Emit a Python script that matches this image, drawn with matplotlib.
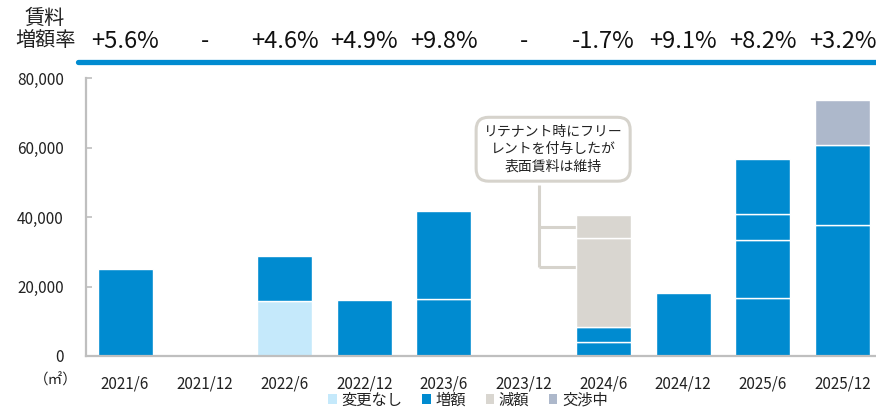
import matplotlib
matplotlib.use("Agg")
import matplotlib.pyplot as plt
from matplotlib.lines import Line2D
from matplotlib.patches import Patch
from matplotlib import transforms
from matplotlib.ticker import FuncFormatter

plt.rcParams["font.family"] = ["Noto Sans CJK JP", "DejaVu Sans"]

periods = ["2021/6", "2021/12", "2022/6", "2022/12", "2023/6",
           "2023/12", "2024/6", "2024/12", "2025/6", "2025/12"]
rent_rates = ["+5.6%", "-", "+4.6%", "+4.9%", "+9.8%",
              "-", "-1.7%", "+9.1%", "+8.2%", "+3.2%"]

# area (m2) per contract segment, stacked bottom -> top
unchanged = [[], [], [15700], [], [], [], [], [], [], []]
increase = [[25100], [], [13100], [16100], [16400, 25300], [],
            [4100, 4300], [18100], [16800, 16500, 7500, 16000], [37800, 22800]]
decrease = [[], [], [], [], [], [], [25500, 6600], [], [], []]
negotiating = [[], [], [], [], [], [], [], [], [], [13200]]

kinds = ["変更なし", "増額", "減額", "交渉中"]
colors = ["#C5E9FB", "#008BD0", "#D9D6D0", "#ADB8CB"]
note_text = "リテナント時にフリー\nレントを付与したが\n表面賃料は維持"
note_idx = 6

TXT = "#222222"
AXC = "#BFBFBF"
BAR_W = 0.69

fig = plt.figure(figsize=(8.76, 4.08), dpi=100)
ax = fig.add_axes([86 / 876, 52 / 408, 790 / 876, 278 / 408])

bottoms = [0] * len(periods)
for kind, color, layer in zip(kinds, colors, [unchanged, increase, decrease, negotiating]):
    for i, segs in enumerate(layer):
        for v in segs:
            ax.bar(i, v, bottom=bottoms[i], width=BAR_W, color=color,
                   edgecolor="white", linewidth=1.0, zorder=2)
            bottoms[i] += v

ax.set_xlim(-0.49, 9.42)
ax.set_ylim(0, 80000)
ax.set_yticks([0, 20000, 40000, 60000, 80000])
ax.yaxis.set_major_formatter(FuncFormatter(lambda v, p: f"{int(v):,}"))
ax.set_xticks(range(len(periods)))
ax.set_xticklabels(periods)
ax.tick_params(axis="x", length=0, pad=14, labelsize=11, labelcolor=TXT)
ax.tick_params(axis="y", direction="in", length=4, width=1.2, color=AXC,
               pad=16, labelsize=11, labelcolor=TXT)
for s in ["top", "right"]:
    ax.spines[s].set_visible(False)
for s in ["left", "bottom"]:
    ax.spines[s].set_color(AXC)
    ax.spines[s].set_linewidth(1.6)

fig.text(56 / 876, 1 - 380 / 408, "（㎡）", ha="center", va="center",
         fontsize=10.5, color=TXT)

# header: rent increase rate per period
tr = transforms.blended_transform_factory(ax.transData, fig.transFigure)
for i, r in enumerate(rent_rates):
    fig.text(i, 1 - 41 / 408, r, transform=tr, ha="center", va="center",
             fontsize=17, color="#111111")
fig.text(45 / 876, 1 - 18 / 408, "賃料", ha="center", va="center",
         fontsize=14.5, color=TXT)
fig.text(45 / 876, 1 - 41 / 408, "増額率", ha="center", va="center",
         fontsize=14.5, color=TXT)
fig.add_artist(Line2D([78 / 876, 1.0], [1 - 62 / 408] * 2, transform=fig.transFigure,
                      color="#008BD0", linewidth=3.8, solid_capstyle="round"))

# callout for 2024/6
dec_lo = sum(unchanged[note_idx]) + sum(increase[note_idx])
dec_mid = dec_lo + decrease[note_idx][0]
ax.text(note_idx - 0.63, 59500, note_text, ha="center", va="center",
        fontsize=10, color=TXT, linespacing=1.3, zorder=5,
        bbox=dict(boxstyle="round,pad=0.55,rounding_size=0.9", fc="white",
                  ec="#D6D3CC", lw=2.2))
bar_left = note_idx - BAR_W / 2
x_stem = note_idx - 0.805
y_branch_top = dec_mid + decrease[note_idx][1] / 2
y_branch_low = 25600
ax.plot([x_stem, x_stem], [49300, y_branch_low], color="#D6D3CC", lw=2.2,
        solid_capstyle="butt", zorder=1)
for yb in [y_branch_top, y_branch_low]:
    ax.plot([x_stem, bar_left], [yb, yb], color="#D6D3CC", lw=2.2,
            solid_capstyle="butt", zorder=1)

handles = [Patch(facecolor=c, edgecolor="none") for c in colors]
fig.legend(handles, kinds, loc="center", bbox_to_anchor=(468 / 876, 1 - 400 / 408),
           ncol=4, frameon=False, fontsize=11, handlelength=0.55, handleheight=0.55,
           handletextpad=0.3, columnspacing=1.3, borderpad=0, labelcolor=TXT)

fig.savefig("out.png", dpi=100)
